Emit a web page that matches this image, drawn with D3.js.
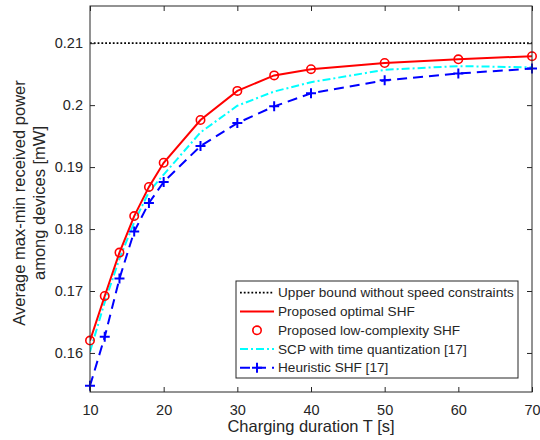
<!DOCTYPE html>
<html><head><meta charset="utf-8">
<script src="https://cdn.jsdelivr.net/npm/d3@7"></script>
<style>body{margin:0;background:#fff}svg{display:block}text{font-family:"Liberation Sans",Arial,sans-serif;fill:#262626}</style>
</head><body><svg id="c" width="540" height="440"></svg>
<script>
const durations = [10, 12, 14, 16, 18, 20, 25, 30, 35, 40, 50, 60, 70];
const upperBound = 0.21;
const optimalSHF = [0.1620, 0.1692, 0.1762, 0.1821, 0.1868, 0.1907, 0.1976, 0.2023, 0.2048, 0.2058, 0.2068, 0.2074, 0.2079];
const lowComplexitySHF = [0.1620, 0.1692, 0.1762, 0.1821, 0.1868, 0.1907, 0.1976, 0.2023, 0.2048, 0.2058, 0.2068, 0.2074, 0.2079];
const scpQuant = [0.1602, 0.1682, 0.1752, 0.1811, 0.1860, 0.1888, 0.1956, 0.1999, 0.2022, 0.2037, 0.2057, 0.2063, 0.2061];
const heuristicSHF = [0.1547, 0.1626, 0.1720, 0.1796, 0.1842, 0.1876, 0.1934, 0.1971, 0.1998, 0.2019, 0.2040, 0.2051, 0.2059];
const xTicks = [10, 20, 30, 40, 50, 60, 70];
const yTicks = [0.16, 0.17, 0.18, 0.19, 0.2, 0.21];
const yTickLabels = ["0.16", "0.17", "0.18", "0.19", "0.2", "0.21"];
const legendLabels = ["Upper bound without speed constraints", "Proposed optimal SHF", "Proposed low-complexity SHF", "SCP with time quantization [17]", "Heuristic SHF [17]"];

const svg = d3.select("#c");
const L = 90, R = 532, T = 6, B = 392;
const x = d3.scaleLinear().domain([10, 70]).range([L, R]);
const y = d3.scaleLinear().domain([0.1537, 0.216]).range([B, T]);
const axisCol = "#262626";

svg.append("clipPath").attr("id","clip").append("rect").attr("x",L).attr("y",T).attr("width",R-L).attr("height",B-T);
const plot = svg.append("g").attr("clip-path","url(#clip)");

const line = d3.line().x((d,i)=>x(durations[i])).y(d=>y(d));

plot.append("path").attr("d", d3.line()([[x(10), y(upperBound)], [x(70), y(upperBound)]]))
  .attr("stroke","#000").attr("stroke-width",1.8).attr("stroke-dasharray","1.8,2")
  .attr("fill","none");
plot.append("path").attr("d", line(scpQuant)).attr("stroke","#00ffff").attr("stroke-width",2)
  .attr("stroke-dasharray","8,3,2,3").attr("fill","none");
plot.append("path").attr("d", line(heuristicSHF)).attr("stroke","#0000ff").attr("stroke-width",2)
  .attr("stroke-dasharray","10,6").attr("fill","none");
plot.append("path").attr("d", line(optimalSHF)).attr("stroke","#ff0000").attr("stroke-width",2).attr("fill","none");

function plus(g, cx, cy, s) {
  g.append("path").attr("d", `M${cx-s},${cy}H${cx+s}M${cx},${cy-s}V${cy+s}`)
    .attr("stroke","#0000ff").attr("stroke-width",2).attr("fill","none");
}
const mg = svg.append("g");
heuristicSHF.forEach((v,i)=>plus(mg, x(durations[i]), y(v), 5));
lowComplexitySHF.forEach((v,i)=>mg.append("circle").attr("cx",x(durations[i])).attr("cy",y(v)).attr("r",4.2)
  .attr("fill","none").attr("stroke","#ff0000").attr("stroke-width",1.6));

svg.append("rect").attr("x",L).attr("y",T).attr("width",R-L).attr("height",B-T).attr("fill","none").attr("stroke",axisCol).attr("stroke-width",1);

const xb = svg.append("g").attr("transform",`translate(0,${B})`).call(d3.axisBottom(x).tickValues(xTicks).tickSizeInner(-5).tickSizeOuter(0).tickPadding(13).tickFormat(d3.format("d")));
const xt = svg.append("g").attr("transform",`translate(0,${T})`).call(d3.axisTop(x).tickValues(xTicks).tickSizeInner(-5).tickSizeOuter(0).tickFormat(""));
const yl = svg.append("g").attr("transform",`translate(${L},0)`).call(d3.axisLeft(y).tickValues(yTicks).tickSizeInner(-5).tickSizeOuter(0).tickPadding(7).tickFormat((d,i)=>yTickLabels[i]));
const yr = svg.append("g").attr("transform",`translate(${R},0)`).call(d3.axisRight(y).tickValues(yTicks).tickSizeInner(-5).tickSizeOuter(0).tickFormat(""));
[xb,xt,yl,yr].forEach(g=>{
  g.select(".domain").remove();
  g.selectAll("line").attr("stroke",axisCol);
  g.selectAll("text").attr("font-size",14.5).attr("fill",axisCol).style("font-family","'Liberation Sans',Arial,sans-serif");
});
xb.selectAll("text").attr("dy","0.71em");

svg.append("text").attr("x",(L+R)/2).attr("y",432).attr("text-anchor","middle").attr("font-size",16.5).text("Charging duration T [s]");
const yt = svg.append("text").attr("transform",`translate(0,203) rotate(-90)`).attr("text-anchor","middle").attr("font-size",16.5);
yt.append("tspan").attr("x",0).attr("y",25).text("Average max-min received power");
yt.append("tspan").attr("x",0).attr("y",45).text("among devices [mW]");

const lg = svg.append("g");
lg.append("rect").attr("x",236).attr("y",281).attr("width",282).attr("height",97).attr("fill","#fff").attr("stroke",axisCol).attr("stroke-width",1);
const rows = [292.7, 311.5, 330.3, 349, 367.7];
const lx0 = 240, lx1 = 274, lmid = 257;
const styles = [
  {stroke:"#000", dash:"1.8,2", w:1.8},
  {stroke:"#ff0000", dash:null, w:2},
  null,
  {stroke:"#00ffff", dash:"8,3,2,3", w:2},
  {stroke:"#0000ff", dash:"10,6", w:2}
];
styles.forEach((s,i)=>{
  if (s) lg.append("path").attr("d",`M${lx0},${rows[i]}H${lx1}`).attr("stroke",s.stroke).attr("stroke-width",s.w)
    .attr("stroke-dasharray",s.dash).attr("fill","none");
  lg.append("text").attr("x",278).attr("y",rows[i]).attr("dy","0.35em").attr("font-size",13.6).text(legendLabels[i]);
});
lg.append("circle").attr("cx",lmid).attr("cy",rows[2]).attr("r",4.2).attr("fill","none").attr("stroke","#ff0000").attr("stroke-width",1.6);
plus(lg, lmid, rows[4], 5);
</script></body></html>
